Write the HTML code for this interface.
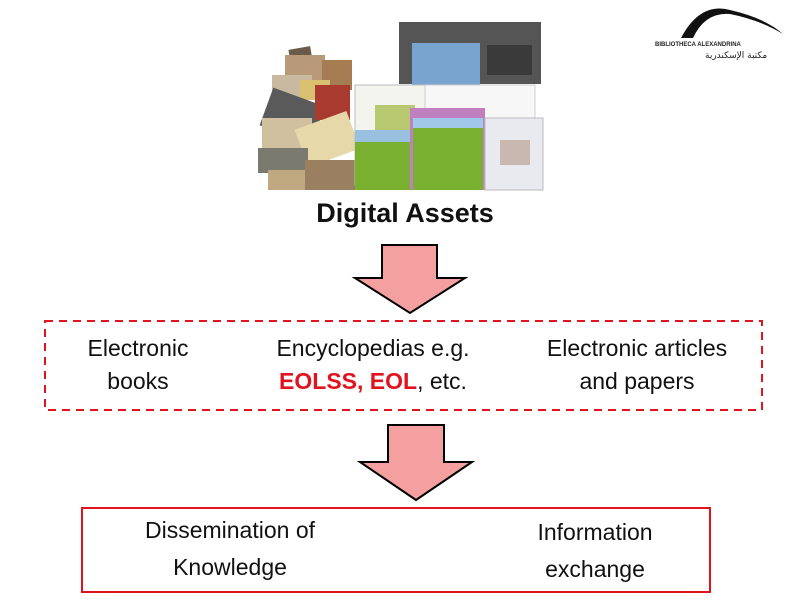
<!DOCTYPE html>
<html><head><meta charset="utf-8"><style>
body{margin:0;width:800px;height:600px;background:#fff;position:relative;overflow:hidden;font-family:"Liberation Sans",sans-serif;}
.t{position:absolute;font-size:23px;color:#111;text-align:center;line-height:33px;white-space:nowrap;transform:translateX(-50%);}
.r{color:#e0141e;font-weight:bold;}
</style></head><body>
<svg width="800" height="600" style="position:absolute;left:0;top:0">
<g>
<rect x="290" y="48" width="22" height="20" fill="#6a5a4a" transform="rotate(-10 300 58)"/>
<rect x="285" y="55" width="40" height="28" fill="#b89a7a"/>
<rect x="322" y="60" width="30" height="30" fill="#a67c52"/>
<rect x="272" y="75" width="40" height="22" fill="#c9b9a0"/>
<rect x="300" y="80" width="30" height="20" fill="#d8c070"/>
<rect x="265" y="95" width="55" height="40" fill="#5a5a5a" transform="rotate(20 290 115)"/>
<rect x="315" y="85" width="35" height="35" fill="#a83a30"/>
<rect x="262" y="118" width="50" height="30" fill="#d0c0a0"/>
<rect x="300" y="120" width="55" height="40" fill="#e6d8a8" transform="rotate(-20 325 140)"/>
<rect x="258" y="148" width="50" height="25" fill="#7a7a70"/>
<rect x="268" y="170" width="45" height="20" fill="#c0a880"/>
<rect x="305" y="160" width="50" height="30" fill="#9a8060"/>
<rect x="399" y="22" width="142" height="62" fill="#555"/>
<rect x="412" y="43" width="68" height="48" fill="#7aa4d0"/>
<rect x="487" y="45" width="45" height="30" fill="#3a3a3a"/>
<rect x="355" y="85" width="110" height="100" fill="#f4f4ee" stroke="#bbb"/>
<rect x="375" y="105" width="40" height="25" fill="#b8c870"/>
<rect x="425" y="85" width="110" height="40" fill="#f7f7f7" stroke="#ccc"/>
<rect x="355" y="130" width="75" height="60" fill="#7ab030"/>
<rect x="355" y="130" width="75" height="12" fill="#9ac0e0"/>
<rect x="410" y="108" width="75" height="82" fill="#c080c0"/>
<rect x="413" y="118" width="70" height="72" fill="#78b030"/>
<rect x="413" y="118" width="70" height="10" fill="#a0c8e8"/>
<rect x="485" y="118" width="58" height="72" fill="#e8eaf0" stroke="#bbb"/>
<rect x="500" y="140" width="30" height="25" fill="#c8b8b0"/>
</g>
<polygon points="382,245 437,245 437,278 465,278 410,313 355,278 382,278" fill="#f4a0a0" stroke="#000" stroke-width="2"/>
<rect x="45" y="321" width="717" height="89" fill="none" stroke="#e0141e" stroke-width="2" stroke-dasharray="8,6"/>
<polygon points="388,425 444,425 444,462 472,462 416,500 360,462 388,462" fill="#f4a0a0" stroke="#000" stroke-width="2"/>
<rect x="82" y="508" width="628" height="84" fill="none" stroke="#e0141e" stroke-width="2"/>
<path d="M681,38 Q700,2 730,10 Q765,18 783,34 Q760,20 730,14 Q705,12 693,38 Z" fill="#111"/>
<text x="655" y="46" font-size="6" font-family="Liberation Sans" font-weight="bold" fill="#222">BIBLIOTHECA ALEXANDRINA</text>
<text x="705" y="58" font-size="9" font-family="DejaVu Sans" fill="#222">مكتبة الإسكندرية</text>
</svg>
<div class="t" style="left:405px;top:197px;font-size:27px;font-weight:bold;">Digital Assets</div>
<div class="t" style="left:138px;top:332px;">Electronic<br>books</div>
<div class="t" style="left:373px;top:332px;">Encyclopedias e.g.<br><span class="r">EOLSS, EOL</span>, etc.</div>
<div class="t" style="left:637px;top:332px;">Electronic articles<br>and papers</div>
<div class="t" style="left:230px;top:512px;line-height:37px;">Dissemination of<br>Knowledge</div>
<div class="t" style="left:595px;top:514px;line-height:37px;">Information<br>exchange</div>
</body></html>
